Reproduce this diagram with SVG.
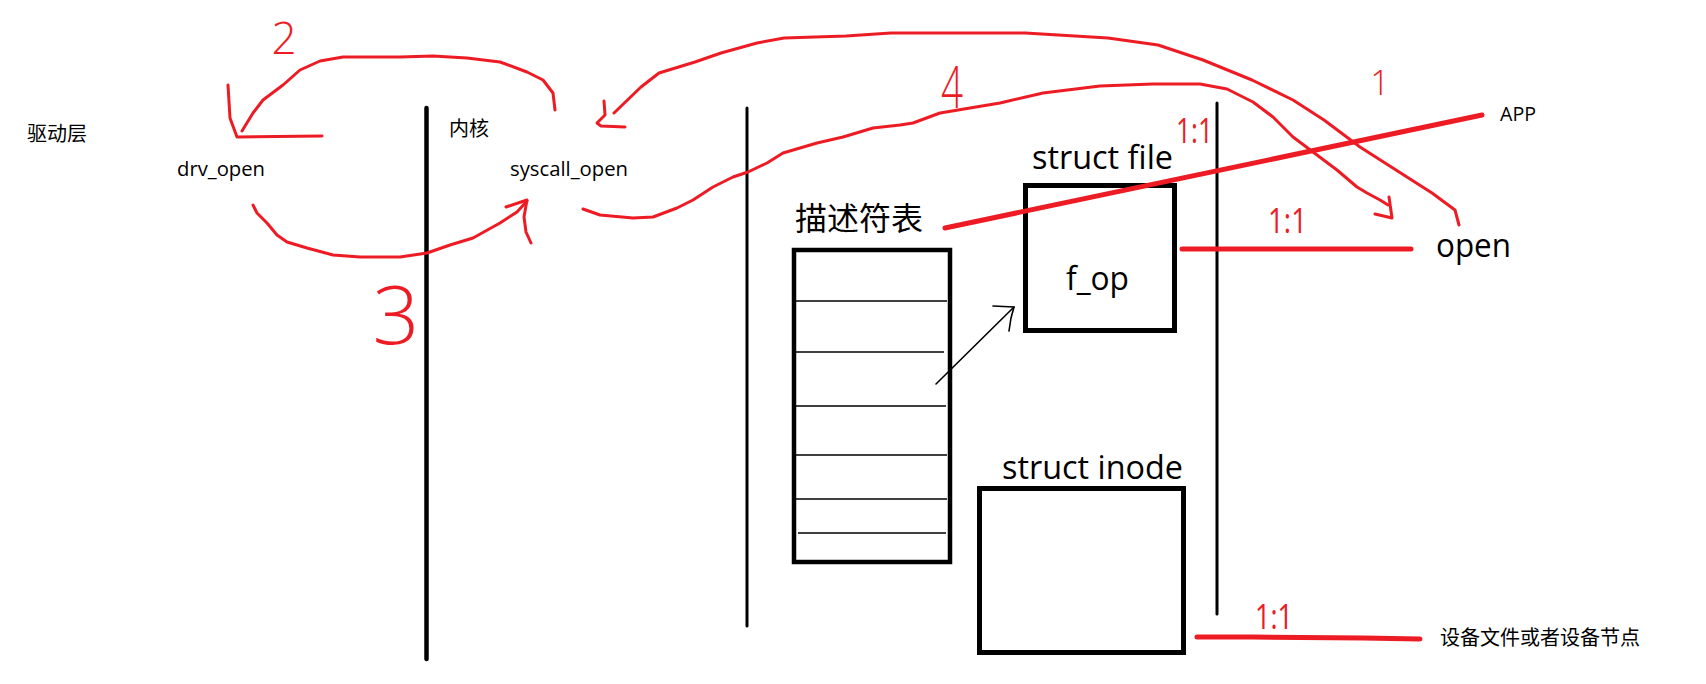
<svg xmlns="http://www.w3.org/2000/svg" width="1706" height="684" viewBox="0 0 1706 684">
<style>
  .lat { font-family: "Open Sans", "Liberation Sans", sans-serif; fill: #000; }
  .cjk { font-family: "Noto Sans CJK SC", "Noto Sans", sans-serif; fill: #000; }
  .red { fill: #ED1C24; }
  .hand { font-family: "Open Sans", "Liberation Sans", sans-serif; font-weight: 300; fill: #ED1C24; text-anchor: middle; }
  .box { fill: none; stroke: #000; stroke-width: 5; }
  .tbl { fill: none; stroke: #000; stroke-width: 4.5; }
  .row { stroke: #000; stroke-width: 1.5; }
  .div { stroke: #000; stroke-linecap: round; }
  .pen { fill: none; stroke: #ED1C24; stroke-width: 3; stroke-linejoin: round; stroke-linecap: round; }
  .thick { fill: none; stroke: #ED1C24; stroke-width: 5; stroke-linecap: round; }
  .blk { fill: none; stroke: #000; stroke-width: 1.6; stroke-linejoin: round; stroke-linecap: round; }
</style>
<rect width="1706" height="684" fill="#fff"/>

<g id="dividers">
  <line class="div" x1="426.5" y1="108" x2="426.5" y2="659" stroke-width="4.5"/>
  <line class="div" x1="747" y1="108" x2="747" y2="626" stroke-width="3"/>
  <line class="div" x1="1217" y1="103" x2="1217" y2="614" stroke-width="3"/>
</g>

<g id="driver-layer">
  <text class="cjk" x="27" y="141" font-size="20">驱动层</text>
  <text class="lat" x="177" y="176" font-size="20" textLength="88" lengthAdjust="spacingAndGlyphs">drv_open</text>
</g>

<g id="kernel">
  <text class="cjk" x="449" y="136" font-size="20">内核</text>
  <text class="lat" x="510" y="176" font-size="20" textLength="118" lengthAdjust="spacingAndGlyphs">syscall_open</text>
</g>

<g id="fd-table">
  <text class="cjk" x="795" y="230" font-size="32">描述符表</text>
  <rect class="tbl" x="794" y="250" width="156" height="312"/>
  <line class="row" x1="796" y1="301" x2="947" y2="301"/>
  <line class="row" x1="796" y1="352" x2="944" y2="352"/>
  <line class="row" x1="796" y1="406" x2="946" y2="406"/>
  <line class="row" x1="796" y1="455" x2="947" y2="455"/>
  <line class="row" x1="796" y1="499" x2="947" y2="499"/>
  <line class="row" x1="798" y1="533" x2="946" y2="533"/>
</g>

<g id="struct-file">
  <text class="lat" x="1032" y="169" font-size="32" textLength="141" lengthAdjust="spacingAndGlyphs">struct file</text>
  <rect class="box" x="1025.5" y="185.5" width="149" height="145"/>
  <text class="lat" x="1066" y="290" font-size="32" textLength="63" lengthAdjust="spacingAndGlyphs">f_op</text>
</g>

<g id="struct-inode">
  <text class="lat" x="1002" y="479" font-size="32" textLength="181" lengthAdjust="spacingAndGlyphs">struct inode</text>
  <rect class="box" x="979.5" y="488.5" width="204" height="164"/>
</g>

<g id="app">
  <text class="lat" x="1500" y="121" font-size="20" textLength="36" lengthAdjust="spacingAndGlyphs">APP</text>
  <text class="lat" x="1436" y="257" font-size="32" textLength="75" lengthAdjust="spacingAndGlyphs">open</text>
</g>

<g id="device-node">
  <text class="cjk" x="1440" y="645" font-size="20">设备文件或者设备节点</text>
</g>

<g id="connectors">
  <!-- 2: syscall_open back to drv_open -->
  <polyline class="pen" points="555,110 553,93 543,80 527,72 500,62 467,58 433,56 400,57 343,57 320,61 300,70 283,85 263,100 253,113 242,131"/>
  <polyline class="pen" points="228,85 230,118 237,137 322,136"/>
  <!-- 3: drv_open to syscall_open -->
  <polyline class="pen" points="253,205 257,213 267,223 277,235 287,242 307,248 333,255 360,257 400,257 427,253 450,245 473,238 500,223 517,212 527,201"/>
  <polyline class="pen" points="506,207 527,200 524,217 526,232 531,243"/>
  <!-- 4: syscall_open to open -->
  <polyline class="pen" points="583,209 600,215 633,218 653,217 677,208 693,200 713,187 733,177 748,172 767,163 783,153 817,143 843,137 873,128 900,125 913,123 940,113 1000,103 1043,93 1100,86 1153,84 1200,84 1227,89 1253,102 1273,117 1293,137 1317,155 1337,170 1357,187 1367,193 1380,200 1388,205"/>
  <polyline class="pen" points="1389,197 1392,218 1375,214"/>
  <!-- 1: open to syscall_open -->
  <polyline class="pen" points="1459,225 1455,210 1432,193 1396,170 1360,147 1324,120 1293,100 1252,80 1203,60 1158,45 1108,38 1025,33 891,33 846,36 784,38 757,43 721,53 695,62 659,73 641,87 614,113"/>
  <polyline class="pen" points="604,101 605,115 597,123 601,126 625,127"/>
  <!-- fd table entry to struct file -->
  <polyline class="blk" points="936,384 1014,307"/>
  <polyline class="blk" points="993,306 1014,307 1011,318 1009,331"/>
  <!-- thick red relations -->
  <line class="thick" x1="945" y1="228" x2="1482" y2="115"/>
  <line class="thick" x1="1182" y1="249" x2="1411" y2="249"/>
  <polyline class="thick" points="1197,637 1253,637 1363,638 1420,639"/>
</g>

<g id="labels">
  <text class="red lat" x="1176" y="143" font-size="34" textLength="37" lengthAdjust="spacingAndGlyphs" style="fill:#ED1C24">1:1</text>
  <text class="red lat" x="1268" y="233" font-size="34" textLength="39" lengthAdjust="spacingAndGlyphs" style="fill:#ED1C24">1:1</text>
  <text class="red lat" x="1255" y="629" font-size="34" textLength="38" lengthAdjust="spacingAndGlyphs" style="fill:#ED1C24">1:1</text>
  <text class="hand" x="284" y="54" font-size="44">2</text>
  <text class="hand" x="396" y="344" font-size="82">3</text>
  <text class="hand" x="952" y="108" font-size="58" textLength="22" lengthAdjust="spacingAndGlyphs">4</text>
  <text class="hand" x="1380" y="95" font-size="34">1</text>
</g>
</svg>
